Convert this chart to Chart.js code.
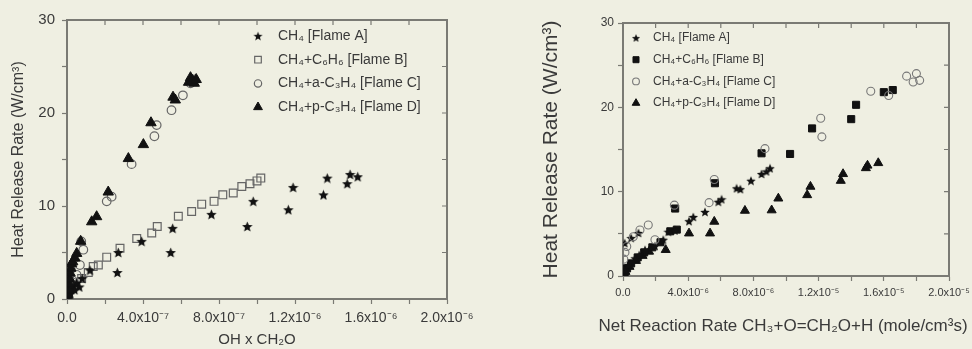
<!DOCTYPE html>
<html>
<head>
<meta charset="utf-8">
<script src="https://cdn.jsdelivr.net/npm/chart.js@4.4.1/dist/chart.umd.min.js"></script>
<style>
  body { margin: 0; background: #efefe2; width: 972px; height: 349px; overflow: hidden; position: relative; }
  canvas { position: absolute; top: 0; }
  #left { left: 0; }
  #right { left: 480px; }
</style>
</head>
<body>
<canvas id="left" width="480" height="349"></canvas>
<canvas id="right" width="492" height="349"></canvas>
<script>
// ---- data ----
const labels = ['CH₄ [Flame A]', 'CH₄+C₆H₆ [Flame B]', 'CH₄+a-C₃H₄ [Flame C]', 'CH₄+p-C₃H₄ [Flame D]'];

// left panel: HRR vs OH x CH2O
const leftA_x = [0.3e-8, 0.8e-8, 1.2e-8, 1.8e-8, 2.5e-8, 3.2e-8, 4.0e-8, 5.0e-8, 6.5e-8, 8.0e-8, 1.21e-7, 2.65e-7, 2.7e-7, 3.93e-7, 5.46e-7, 5.56e-7, 7.6e-7, 9.49e-7, 9.8e-7, 1.165e-6, 1.19e-6, 1.35e-6, 1.37e-6, 1.475e-6, 1.49e-6, 1.53e-6];
const leftA_y = [0.2, 0.5, 0.8, 0.6, 1.1, 1.4, 1.0, 1.7, 1.3, 2.2, 3.1, 2.85, 5.0, 6.2, 5.0, 7.6, 9.1, 7.8, 10.5, 9.6, 12.0, 11.2, 13.0, 12.4, 13.4, 13.15];
const leftB_x = [1.6e-8, 4.2e-8, 7.7e-8, 1.12e-7, 1.38e-7, 1.65e-7, 2.09e-7, 2.79e-7, 3.67e-7, 4.46e-7, 4.75e-7, 5.86e-7, 6.56e-7, 7.09e-7, 7.74e-7, 8.2e-7, 8.75e-7, 9.2e-7, 9.63e-7, 1.0e-6, 1.02e-6];
const leftB_y = [0.97, 1.5, 2.2, 2.85, 3.5, 3.65, 4.5, 5.45, 6.5, 7.1, 7.8, 8.9, 9.4, 10.2, 10.5, 11.2, 11.4, 12.1, 12.4, 12.7, 13.0];
const leftC_x = [0.5e-8, 1.2e-8, 2.0e-8, 3.0e-8, 5.0e-8, 6.8e-8, 7.5e-8, 8.6e-8, 2.09e-7, 2.35e-7, 3.4e-7, 4.6e-7, 4.72e-7, 5.5e-7, 6.1e-7, 6.5e-7, 6.7e-7];
const leftC_y = [1.5, 2.5, 3.2, 2.0, 2.6, 3.65, 6.2, 5.3, 10.5, 11.0, 14.5, 17.5, 18.7, 20.3, 21.9, 23.2, 23.6];
const leftD_x = [0.3e-8, 0.6e-8, 1.0e-8, 1.3e-8, 1.6e-8, 2.0e-8, 2.4e-8, 3.0e-8, 4.2e-8, 5.1e-8, 7.2e-8, 1.3e-7, 1.56e-7, 2.17e-7, 3.23e-7, 4.02e-7, 4.42e-7, 5.58e-7, 5.7e-7, 6.4e-7, 6.5e-7, 6.6e-7, 6.7e-7, 6.8e-7];
const leftD_y = [0.4, 1.0, 1.6, 2.2, 2.8, 3.3, 3.8, 4.0, 4.4, 4.9, 6.2, 8.3, 8.85, 11.5, 15.1, 16.6, 18.95, 21.7, 21.4, 23.3, 23.8, 23.5, 23.2, 23.6];

// right panel: HRR vs net rate CH3+O=CH2O+H
const rightA_x = [0.1e-6, 0.12e-6, 0.33e-6, 0.5e-6, 0.74e-6, 0.95e-6, 1.0e-6, 1.35e-6, 1.96e-6, 2.47e-6, 2.78e-6, 3.19e-6, 4.05e-6, 4.31e-6, 5.03e-6, 5.85e-6, 6.05e-6, 6.97e-6, 7.2e-6, 7.85e-6, 8.5e-6, 8.8e-6, 9.02e-6];
const rightA_y = [3.9, 0.7, 1.3, 4.5, 2.1, 5.1, 2.5, 3.1, 3.55, 4.3, 5.25, 5.4, 6.5, 7.0, 7.6, 8.8, 9.1, 10.4, 10.3, 11.3, 12.1, 12.4, 12.77];
const rightB_x = [0.1e-6, 0.25e-6, 0.5e-6, 0.9e-6, 1.3e-6, 1.8e-6, 2.3e-6, 2.9e-6, 3.2e-6, 3.3e-6, 5.64e-6, 8.5e-6, 1.025e-5, 1.16e-5, 1.4e-5, 1.43e-5, 1.6e-5, 1.655e-5];
const rightB_y = [0.3, 0.9, 1.5, 2.2, 2.8, 3.4, 4.0, 5.3, 8.0, 5.5, 11.0, 14.55, 14.47, 17.5, 18.6, 20.3, 21.8, 22.05];
const rightC_x = [0.05e-6, 0.12e-6, 0.23e-6, 0.63e-6, 1.04e-6, 1.55e-6, 1.96e-6, 3.15e-6, 5.28e-6, 5.6e-6, 8.71e-6, 1.213e-5, 1.22e-5, 1.52e-5, 1.63e-5, 1.74e-5, 1.78e-5, 1.8e-5, 1.82e-5];
const rightC_y = [2.0, 2.8, 3.5, 4.66, 5.45, 6.05, 4.3, 8.4, 8.7, 11.45, 15.1, 18.7, 16.5, 21.9, 21.4, 23.7, 23.0, 24.0, 23.2];
const rightD_x = [0.15e-6, 0.4e-6, 0.8e-6, 1.2e-6, 1.6e-6, 2.62e-6, 4.05e-6, 5.34e-6, 5.6e-6, 7.48e-6, 9.12e-6, 9.53e-6, 1.13e-5, 1.15e-5, 1.336e-5, 1.35e-5, 1.49e-5, 1.5e-5, 1.566e-5];
const rightD_y = [0.5, 1.1, 1.8, 2.4, 2.9, 3.1, 5.06, 5.06, 6.45, 7.75, 7.8, 9.2, 9.6, 10.6, 11.3, 12.1, 12.8, 13.1, 13.4];

const yTitle = 'Heat Release Rate (W/cm³)';
const leftXTitle = 'OH x CH₂O';
const rightXTitle = 'Net Reaction Rate CH₃+O=CH₂O+H (mole/cm³s)';

// ---- look ----
const FONT = "'Liberation Sans', Arial, sans-serif";
const axisColor = '#7a7a74';
const textColor = '#3a3a3a';
const ink = '#111';
const openInk = '#666';

const pts = (xs, ys) => xs.map((x, i) => ({ x: x, y: ys[i] }));

function starImage(size) {
  const c = document.createElement('canvas');
  c.width = c.height = size;
  const g = c.getContext('2d');
  const R = size / 2, r = R * 0.45;
  g.beginPath();
  for (let k = 0; k < 10; k++) {
    const rad = k % 2 ? r : R;
    const a = -Math.PI / 2 + k * Math.PI / 5;
    g.lineTo(R + rad * Math.cos(a), R + 0.5 + rad * Math.sin(a));
  }
  g.closePath();
  g.fillStyle = ink;
  g.fill();
  return c;
}

const sup = { '-': '⁻', '0': '⁰', '1': '¹', '2': '²', '3': '³', '4': '⁴', '5': '⁵', '6': '⁶', '7': '⁷', '8': '⁸', '9': '⁹' };
function sci(v, i) {
  if (i % 2) return '';
  if (Math.abs(v) < 1e-15) return '0.0';
  const e = Math.floor(Math.log10(v) + 1e-9);
  const m = v / Math.pow(10, e);
  return m.toFixed(1) + 'x10' + String(e).split('').map(c => sup[c]).join('');
}

// top/right box lines with inward ticks
const frame = {
  id: 'frame',
  afterDraw(chart) {
    const { ctx, chartArea: a, scales: { x, y } } = chart;
    ctx.save();
    ctx.strokeStyle = axisColor;
    ctx.lineWidth = 2;
    ctx.beginPath();
    ctx.moveTo(a.left - 1, a.top);
    ctx.lineTo(a.right, a.top);
    ctx.lineTo(a.right, a.bottom + 1);
    ctx.stroke();
    ctx.lineWidth = 1.2;
    ctx.beginPath();
    x.ticks.forEach(t => {
      const px = x.getPixelForValue(t.value);
      ctx.moveTo(px, a.top);
      ctx.lineTo(px, a.top + 5);
    });
    y.ticks.forEach(t => {
      const py = y.getPixelForValue(t.value);
      ctx.moveTo(a.right, py);
      ctx.lineTo(a.right - 5, py);
    });
    ctx.stroke();
    ctx.restore();
  }
};

function drawMarker(ctx, ds, x, y, k) {
  const s = ds.pointStyle;
  if (typeof s === 'object') {
    const w = s.width * k;
    ctx.drawImage(s, x - w / 2, y - w / 2, w, w);
    return;
  }
  const r = ds.pointRadius * k;
  ctx.beginPath();
  if (s === 'rect') {
    const h = r * Math.SQRT1_2;
    ctx.rect(x - h, y - h, 2 * h, 2 * h);
  } else if (s === 'triangle') {
    for (let j = 0; j < 3; j++) {
      const a = j * 2 * Math.PI / 3;
      ctx.lineTo(x + Math.sin(a) * r, y - Math.cos(a) * r);
    }
    ctx.closePath();
  } else {
    ctx.arc(x, y, r, 0, Math.PI * 2);
  }
  if (ds.backgroundColor !== 'transparent') {
    ctx.fillStyle = ds.backgroundColor;
    ctx.fill();
  }
  ctx.lineWidth = ds.borderWidth;
  ctx.strokeStyle = ds.borderColor;
  ctx.stroke();
}

// legend inside the plot area + free captions
const inside = {
  id: 'inside',
  afterDraw(chart, args, o) {
    const ctx = chart.ctx;
    ctx.save();
    ctx.font = o.size + 'px ' + FONT;
    ctx.textBaseline = 'middle';
    ctx.fillStyle = textColor;
    chart.data.datasets.forEach((ds, i) => {
      const y = o.y + i * o.dy;
      drawMarker(ctx, ds, o.mx, y, o.k);
      ctx.fillStyle = textColor;
      ctx.fillText(ds.label, o.tx, y);
    });
    if (o.caption) {
      const a = chart.chartArea;
      ctx.font = o.caption.size + 'px ' + FONT;
      ctx.textAlign = 'center';
      ctx.fillText(o.caption.text, (a.left + a.right) / 2 + o.caption.dx, o.caption.y);
    }
    ctx.restore();
  }
};

function panel(id, sets, cfg) {
  new Chart(document.getElementById(id), {
    type: 'scatter',
    data: { datasets: sets },
    options: {
      responsive: false,
      animation: false,
      events: [],
      layout: { padding: cfg.pad },
      plugins: { legend: { display: false }, tooltip: { enabled: false }, inside: cfg.legend },
      scales: {
        x: {
          type: 'linear', min: 0, max: cfg.xMax,
          border: { color: axisColor, width: 2 },
          grid: { drawOnChartArea: false, tickLength: 5, color: axisColor, tickWidth: 1.2 },
          ticks: { stepSize: cfg.xMax / 10, autoSkip: false, maxRotation: 0, padding: cfg.xTickPad, color: textColor,
                   font: { family: FONT, size: cfg.xTickSize }, callback: (v, i) => sci(v, i) },
          title: cfg.xTitle
            ? { display: true, text: cfg.xTitle, color: textColor, font: { family: FONT, size: cfg.xTitleSize }, padding: { top: 0, bottom: 0 } }
            : { display: false },
          afterFit: s => { s.height = cfg.xH; s.paddingLeft = 0; s.paddingRight = 0; }
        },
        y: {
          type: 'linear', min: 0, max: 30,
          border: { color: axisColor, width: 2 },
          grid: { drawOnChartArea: false, tickLength: 5, color: axisColor, tickWidth: 1.2 },
          ticks: { stepSize: 5, padding: cfg.yTickPad, color: textColor, font: { family: FONT, size: cfg.yTickSize },
                   callback: v => (v % 10 === 0 ? String(v) : '') },
          title: { display: true, text: yTitle, color: textColor, font: { family: FONT, size: cfg.yTitleSize },
                   padding: { top: cfg.yTitlePad, bottom: 0 } },
          afterFit: s => { s.width = cfg.yW; s.paddingTop = 0; s.paddingBottom = 0; }
        }
      }
    },
    plugins: [frame, inside]
  });
}

const starL = starImage(11);
const starR = starImage(10);

panel('left', [
  { label: labels[0], data: pts(leftA_x, leftA_y), pointStyle: starL, pointRadius: 5, backgroundColor: ink, borderColor: ink, borderWidth: 0, order: 1 },
  { label: labels[1], data: pts(leftB_x, leftB_y), pointStyle: 'rect', pointRadius: 5.5, backgroundColor: 'transparent', borderColor: openInk, borderWidth: 1.2, order: 3 },
  { label: labels[2], data: pts(leftC_x, leftC_y), pointStyle: 'circle', pointRadius: 4.3, backgroundColor: 'transparent', borderColor: openInk, borderWidth: 1.2, order: 2 },
  { label: labels[3], data: pts(leftD_x, leftD_y), pointStyle: 'triangle', pointRadius: 6, backgroundColor: ink, borderColor: ink, borderWidth: 1, order: 0 }
], {
  pad: { left: 0, top: 20, right: 33, bottom: 0 },
  xMax: 2e-6, xH: 50, xTickPad: 6, xTickSize: 14, xTitle: leftXTitle, xTitleSize: 15,
  yW: 67, yTickPad: 7, yTickSize: 15, yTitleSize: 16, yTitlePad: 9,
  legend: { mx: 258, tx: 278, y: 36, dy: 23.7, size: 14, k: 0.85 }
});

panel('right', [
  { label: labels[0], data: pts(rightA_x, rightA_y), pointStyle: starR, pointRadius: 5, backgroundColor: ink, borderColor: ink, borderWidth: 0, order: 1 },
  { label: labels[1], data: pts(rightB_x, rightB_y), pointStyle: 'rect', pointRadius: 5, backgroundColor: ink, borderColor: ink, borderWidth: 1, order: 2 },
  { label: labels[2], data: pts(rightC_x, rightC_y), pointStyle: 'circle', pointRadius: 4, backgroundColor: 'transparent', borderColor: '#777', borderWidth: 1.1, order: 0 },
  { label: labels[3], data: pts(rightD_x, rightD_y), pointStyle: 'triangle', pointRadius: 5.2, backgroundColor: ink, borderColor: ink, borderWidth: 1, order: 3 }
], {
  pad: { left: 0, top: 23, right: 23, bottom: 0 },
  xMax: 2e-5, xH: 73, xTickPad: 5, xTickSize: 11, xTitle: null,
  yW: 143, yTickPad: 4, yTickSize: 12, yTitleSize: 21, yTitlePad: 59,
  legend: { mx: 156, tx: 173, y: 38, dy: 21.7, size: 12, k: 0.85,
            caption: { text: rightXTitle, size: 17, y: 326, dx: -3 } }
});
</script>
</body>
</html>
